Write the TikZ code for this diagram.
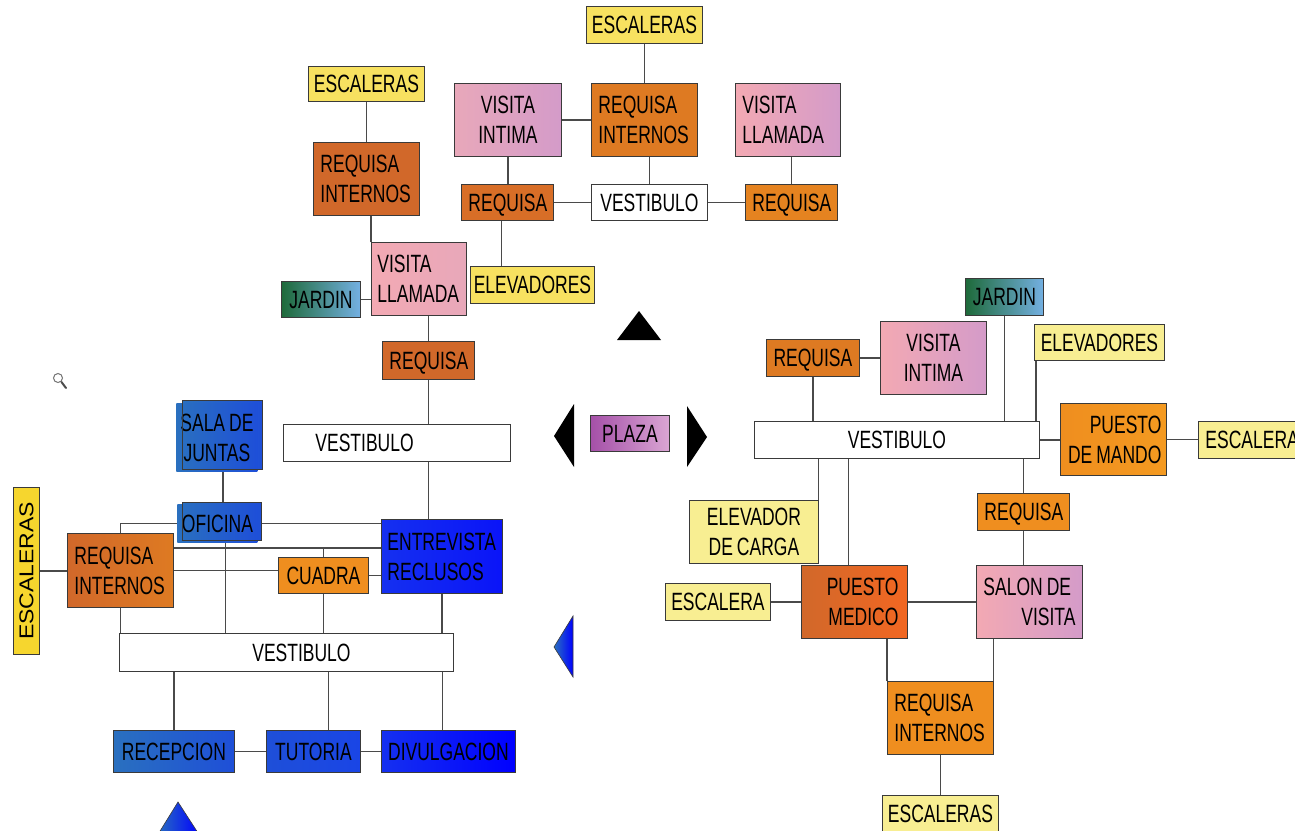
\documentclass[tikz,border=0pt]{standalone}
\usepackage{fontspec}
\newfontfamily\lblfont{Liberation Sans}[FakeStretch=0.70]
\newfontfamily\escfont{Liberation Sans}[FakeStretch=1.15]
\usetikzlibrary{calc,backgrounds}
\newcommand\ws{\hspace{4pt}}
\definecolor{ylw}{HTML}{F7E160}
\definecolor{ylwL}{HTML}{F8EE92}
\definecolor{ylwS}{HTML}{F6D62E}
\definecolor{orD}{HTML}{D1682A}
\definecolor{orD2}{HTML}{D86E27}
\definecolor{orM}{HTML}{DE7A22}
\definecolor{orM2}{HTML}{E58320}
\definecolor{orB}{HTML}{EF8E1F}
\definecolor{orB2}{HTML}{F49A20}
\definecolor{orR}{HTML}{F26722}
\definecolor{pkA}{HTML}{E8A8BA}
\definecolor{pkL}{HTML}{F3A9B3}
\definecolor{pkR}{HTML}{D49BC9}
\definecolor{gnL}{HTML}{1E6A3A}
\definecolor{gnR}{HTML}{74B0E2}
\definecolor{blA}{HTML}{2A70BF}
\definecolor{blB}{HTML}{1E4FD8}
\definecolor{blE}{HTML}{1A45E6}
\definecolor{blC}{HTML}{1530F0}
\definecolor{blD}{HTML}{0A14F8}
\definecolor{blF}{HTML}{0000FF}
\definecolor{plL}{HTML}{A550A8}
\definecolor{plR}{HTML}{DAA6D4}
\definecolor{edge}{HTML}{3A3A3A}
\definecolor{wire}{HTML}{4A4A4A}
\tikzset{
  bx/.style={draw=edge, line width=0.9pt, anchor=north west, inner ysep=0pt, inner xsep=7pt,
    font=\lblfont\fontsize{25}{30}\selectfont, text=black},
  single/.style={text depth=0pt},
  conn/.style={draw=wire, line width=1.1pt},
  frameline/.style={draw=edge, line width=0.9pt},
  bluetri/.style={draw=edge, line width=0.6pt, left color=blA, right color=blF}
}
\newcommand\mybox[7]{\node[bx, minimum width=\dimexpr #4pt-#2pt\relax,
  minimum height=\dimexpr #5pt-#3pt\relax, text width=\dimexpr #4pt-#2pt-14pt\relax, #6]
  (#1) at (#2,#3) {#7};}
\begin{document}
\begin{tikzpicture}[x=1pt,y=-1pt]
\useasboundingbox (0,0) rectangle (1295,830);
\begin{scope}
\clip (0,0) rectangle (1295,830);
% ---------- top cluster
\mybox{esc1}{586}{6}{702}{43}{single, fill=ylw, align=center, inner xsep=3pt, text width=110pt}{ESCALERAS}
\mybox{esc2}{308}{66}{424}{101}{single, fill=ylw, align=center, inner xsep=3pt, text width=110pt}{ESCALERAS}
\mybox{vi1}{454}{83}{561}{156}{left color=pkA, right color=pkR, align=center}{VISITA\\INTIMA}
\mybox{ri1}{591}{83}{697}{156}{fill=orM, align=left}{REQUISA\\INTERNOS}
\mybox{vl1}{735}{83}{840}{156}{left color=pkL, right color=pkR, align=left}{VISITA\\LLAMADA}
\mybox{ri2}{313}{142}{419}{215}{fill=orD, align=left}{REQUISA\\INTERNOS}
\mybox{req1}{461}{184}{553}{220}{single, fill=orD2, align=center}{REQUISA}
\mybox{vest1}{591}{184}{707}{220}{single, fill=white, align=center}{VESTIBULO}
\mybox{req2}{745}{184}{837}{220}{single, fill=orM2, align=center}{REQUISA}
\mybox{vl2}{371}{242}{466}{315}{left color=pkL, right color=pkA, align=left, inner xsep=6pt, text width=83pt}{VISITA\\LLAMADA}
\mybox{jar1}{281}{281}{360}{317}{single, left color=gnL, right color=gnR, align=center, inner xsep=2pt, text width=75pt}{JARDIN}
\mybox{elev1}{470}{266}{594}{303}{single, fill=ylw, align=center, inner xsep=2pt, text width=120pt}{ELEVADORES}
\mybox{req3}{382}{341}{474}{379}{single, fill=orD, align=center}{REQUISA}
\mybox{vest2}{283}{424}{510}{461}{single, fill=white, align=left, inner xsep=32pt, text width=163pt}{VESTIBULO}
% ---------- left cluster
\fill[left color=blA, right color=blB] (182,400) rectangle (262,469);
\mybox{sala}{176}{403}{257}{471}{draw=none, left color=blA, right color=blB, align=center, inner xsep=0pt, text width=81pt}{SALA\ws DE\\JUNTAS}
\draw[frameline] (182,400) rectangle (262,469);
\fill[left color=blA, right color=blB] (182,502) rectangle (261,540);
\mybox{ofi}{177}{504}{257}{542}{single, draw=none, left color=blA, right color=blB, align=center, inner xsep=0pt, text width=80pt}{OFICINA}
\draw[frameline] (182,502) rectangle (261,540);
\mybox{escL}{13}{487}{39}{654}{fill=ylwS, align=center, inner xsep=0pt, text width=26pt}{\rotatebox{90}{\escfont\fontsize{20}{20}\selectfont ESCALERAS}}
\mybox{reqL}{67}{533}{173}{607}{left color=orD, right color=orM, align=left}{REQUISA\\INTERNOS}
\mybox{cua}{278}{557}{368}{593}{single, fill=orB, align=center}{CUADRA}
\mybox{ent}{381}{519}{502}{593}{left color=blC, right color=blD, align=left, inner xsep=6pt, text width=109pt}{ENTREVISTA\\RECLUSOS}
\mybox{vest3}{119}{633}{453}{671}{single, fill=white, align=center}{\hspace*{30pt}VESTIBULO}
\mybox{rec}{113}{730}{234}{772}{single, left color=blA, right color=blB, align=center}{RECEPCION}
\mybox{tut}{266}{730}{360}{772}{single, left color=blB, right color=blE, align=center}{TUTORIA}
\mybox{div}{381}{730}{515}{772}{single, left color=blC, right color=blF, align=center, inner xsep=5pt, text width=124pt}{DIVULGACION}
% ---------- centre
\mybox{plaza}{590}{415}{669}{451}{single, left color=plL, right color=plR, align=center}{PLAZA}
% ---------- right cluster
\mybox{jar2}{965}{278}{1043}{315}{single, left color=gnL, right color=gnR, align=center, inner xsep=2pt, text width=74pt}{JARDIN}
\mybox{vi2}{880}{321}{986}{394}{left color=pkL, right color=pkR, align=center}{VISITA\\INTIMA}
\mybox{req4}{766}{339}{859}{376}{single, fill=orM, align=center}{REQUISA}
\mybox{elev2}{1034}{324}{1164}{360}{single, fill=ylwL, align=center, inner xsep=2pt, text width=126pt}{ELEVADORES}
\mybox{vest4}{754}{421}{1039}{458}{single, fill=white, align=center}{VESTIBULO}
\mybox{pdm}{1060}{403}{1166}{475}{left color=orB, right color=orB2, align=right, inner xsep=5pt, text width=96pt}{PUESTO\\DE\ws MANDO}
\mybox{escR}{1198}{421}{1314}{458}{single, fill=ylwL, align=left}{ESCALERAS}
\mybox{elevC}{689}{500}{818}{563}{fill=ylwL, align=center}{ELEVADOR\\DE\ws CARGA}
\mybox{req5}{977}{493}{1069}{530}{single, fill=orB, align=center}{REQUISA}
\mybox{pm}{801}{565}{907}{638}{left color=orD, right color=orR, align=right, inner xsep=9pt, text width=88pt}{PUESTO\\MEDICO}
\mybox{salon}{976}{565}{1082}{638}{left color=pkL, right color=pkR, align=left}{SALON\ws DE\\\mbox{}\hfill VISITA}
\mybox{escl}{665}{583}{770}{620}{single, fill=ylwL, align=center, inner xsep=2pt, text width=101pt}{ESCALERA}
\mybox{ri3}{887}{681}{993}{754}{fill=orB, align=left}{REQUISA\\INTERNOS}
\mybox{escB}{882}{795}{998}{832}{single, fill=ylwL, align=center, inner xsep=3pt, text width=110pt}{ESCALERAS}
% ---------- triangles and icon
\fill[black] (617,340) -- (639,311) -- (661,340) -- cycle;
\fill[black] (574,404) -- (554,436) -- (574,467) -- cycle;
\fill[black] (687,406) -- (707,437) -- (687,467) -- cycle;
\draw[bluetri] (573,616) -- (554,647) -- (573,677) -- cycle;
\draw[bluetri] (157,836) -- (178,802) -- (200,836) -- cycle;
\draw[black!55, line width=1pt] (58,378) circle[radius=4.5pt];
\draw[black!70, line width=2pt, line cap=round] (61.5,382) -- (66,388);
\end{scope}
% ---------- connectors
\begin{pgfonlayer}{background}
\fill[white] (0,0) rectangle (1295,830);
\draw[conn] (esc1.south) -- (ri1.north);
\draw[conn] (vi1.east) -- (ri1.west);
\draw[conn] (vi1.south) -- (vi1.south |- req1.north);
\draw[conn] (vest1.north) -- (vest1.north |- ri1.south);
\draw[conn] (req2.north) -- (req2.north |- vl1.south);
\draw[conn] (req1.east) -- (vest1.west);
\draw[conn] (vest1.east) -- (req2.west);
\draw[conn] ([xshift=-6pt]req1.south) -- ([xshift=-6pt]req1.south |- elev1.north);
\draw[conn] (esc2.south) -- (ri2.north);
\draw[conn] (vl2.north west) -- (vl2.north west |- ri2.south);
\draw[conn] (jar1.east) -- (jar1.east -| vl2.west);
\draw[conn] (req3.north) -- (req3.north |- vl2.south);
\draw[conn] (req3.south) -- (req3.south |- vest2.north);
\draw[conn] (vest2.south -| req3.south) -- (ent.north -| req3.south);
\draw[conn] ([xshift=6pt]sala.south) -- ([xshift=6pt]sala.south |- ofi.north);
\draw[conn] (ofi.west) -| (reqL.north);
\draw[conn] (ofi.east) -- (ofi.east -| ent.west);
\coordinate (j1) at ([yshift=-15pt]reqL.north east);
\draw[conn] (j1) -- (j1 -| ent.west);
\draw[conn] (cua.north) -- (cua.north |- j1);
\draw[conn] (reqL.east) -- (reqL.east -| cua.west);
\draw[conn] (cua.east) -- (cua.east -| ent.west);
\draw[conn] (escL.east) -- (escL.east -| reqL.west);
\draw[conn] ([xshift=8pt]ofi.south) -- ([xshift=8pt]ofi.south |- vest3.north);
\draw[conn] (reqL.south) -- (reqL.south |- vest3.north);
\draw[conn] (cua.south) -- (cua.south |- vest3.north);
\draw[conn] (ent.south) -- (ent.south |- vest3.north);
\draw[conn] (rec.north) -- (rec.north |- vest3.south);
\draw[conn] ([xshift=15pt]tut.north) -- ([xshift=15pt]tut.north |- vest3.south);
\draw[conn] ([xshift=-6pt]div.north) -- ([xshift=-6pt]div.north |- vest3.south);
\draw[conn] (rec.east) -- (tut.west);
\draw[conn] (tut.east) -- (div.west);
\draw[conn] (req4.east) -- (req4.east -| vi2.west);
\draw[conn] (req4.south) -- (req4.south |- vest4.north);
\draw[conn] (jar2.south) -- (jar2.south |- vest4.north);
\draw[conn] ([xshift=2pt]elev2.south west) -- ([xshift=2pt]elev2.south west |- vest4.north);
\draw[conn] (vest4.east) -- (vest4.east -| pdm.west);
\draw[conn] (pdm.east) -- (pdm.east -| escR.west);
\draw[conn] (elevC.north east) -- (elevC.north east |- vest4.south);
\draw[conn] ([xshift=-6pt]pm.north) -- ([xshift=-6pt]pm.north |- vest4.south);
\draw[conn] (req5.north) -- (req5.north |- vest4.south);
\draw[conn] (req5.south) -- (req5.south |- salon.north);
\draw[conn] (escl.east) -- (escl.east -| pm.west);
\draw[conn] (pm.east) -- (pm.east -| salon.west);
\draw[conn] (ri3.north west) -- (ri3.north west |- pm.south);
\draw[conn] (ri3.north east) -- (ri3.north east |- salon.south);
\draw[conn] (ri3.south) -- (ri3.south |- escB.north);
\end{pgfonlayer}
\end{tikzpicture}
\end{document}
